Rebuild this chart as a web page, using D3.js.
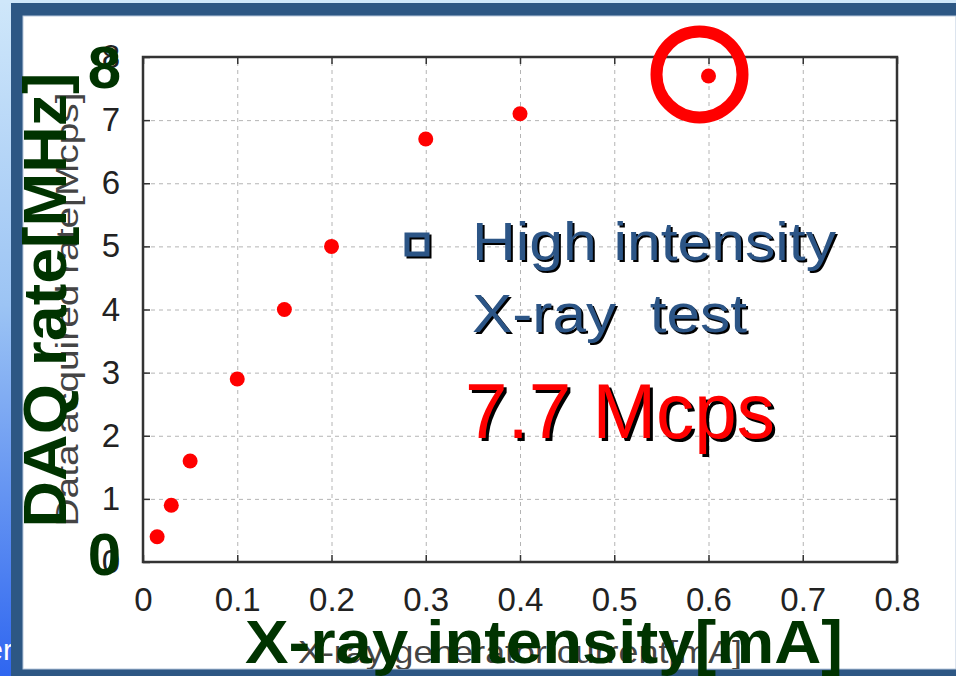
<!DOCTYPE html>
<html>
<head>
<meta charset="utf-8">
<script src="https://cdn.jsdelivr.net/npm/d3@7"></script>
<style>
    body { margin: 0; background: #fff; }
    svg { display: block; font-family: 'Liberation Sans', Arial, sans-serif; }
</style>
</head>
<body>
<svg id="chart" width="956" height="676"></svg>
<script>
// DAQ rate vs X-ray generator current
const current = [0.015, 0.03, 0.05, 0.1, 0.15, 0.2, 0.3, 0.4, 0.6]
const rate = [0.4, 0.9, 1.6, 2.9, 4.0, 5.0, 6.7, 7.1, 7.7]
const xTicks = [0, 0.1, 0.2, 0.3, 0.4, 0.5, 0.6, 0.7, 0.8]
const yTicks = [0, 1, 2, 3, 4, 5, 6, 7, 8]
const bigYTicks = [8, 0]
const peakIndex = 8
const legendLines = ['High intensity', 'X-ray  test']
const headline = '7.7 Mcps'
const xLabel = 'X-ray intensity[mA]'
const yLabel = 'DAQ rate[MHz]'
const oldXLabel = 'X-ray generator current[mA]'
const oldYLabel = 'Data acquired rate[Mcps]'

const svg = d3.select('#chart')
const W = +svg.attr('width')
const H = +svg.attr('height')
const green = '#003300'
const slideBlue = '#2d5784'

// slide background and frame
const defs = svg.append('defs')
const grad = defs.append('linearGradient')
    .attr('id', 'side')
    .attr('x1', 0).attr('y1', 0).attr('x2', 0).attr('y2', 1)
grad.append('stop').attr('offset', '0%').attr('stop-color', '#cfe7fa')
grad.append('stop').attr('offset', '45%').attr('stop-color', '#9cc4f4')
grad.append('stop').attr('offset', '100%').attr('stop-color', '#2f66f0')

svg.append('rect').attr('width', W).attr('height', H).attr('fill', 'url(#side)')
svg.append('rect').attr('width', W).attr('height', 3).attr('fill', '#cfe7fa')
svg.append('text')
    .attr('x', 13).attr('y', 660)
    .attr('text-anchor', 'end')
    .attr('font-size', 30)
    .attr('fill', '#fff')
    .text('er')
svg.append('rect')
    .attr('x', 11).attr('y', 3)
    .attr('width', W - 11).attr('height', H - 3)
    .attr('fill', slideBlue)
svg.append('rect')
    .attr('x', 23).attr('y', 16)
    .attr('width', W - 23).attr('height', 653)
    .attr('fill', '#fff')
    .attr('stroke', '#b8c8dc')
    .attr('stroke-width', 1)

defs.append('clipPath').attr('id', 'page')
    .append('rect')
    .attr('x', 23).attr('y', 16)
    .attr('width', W - 23).attr('height', 653)

// pasted gnuplot picture
const margin = { top: 57, left: 143 }
const width = 754
const height = 505

const paper = svg.append('g').attr('clip-path', 'url(#page)')
const g = paper.append('g')
    .attr('transform', `translate(${margin.left},${margin.top})`)

const x = d3.scaleLinear().domain([0, 0.8]).range([0, width])
const y = d3.scaleLinear().domain([0, 8]).range([height, 0])

// dashed grid
g.append('g')
    .attr('transform', `translate(0,${height})`)
    .call(d3.axisBottom(x).tickValues(xTicks).tickSize(-height).tickFormat(''))
    .call(s => s.select('.domain').remove())
    .selectAll('line')
    .attr('stroke', '#b4b4b4')
    .attr('stroke-dasharray', '4,4')

g.append('g')
    .call(d3.axisLeft(y).tickValues(yTicks).tickSize(-width).tickFormat(''))
    .call(s => s.select('.domain').remove())
    .selectAll('line')
    .attr('stroke', '#b4b4b4')
    .attr('stroke-dasharray', '4,4')

// inward ticks and labels
const styleAxis = s => {
    s.select('.domain').remove()
    s.attr('font-family', null).attr('font-size', 33)
    s.selectAll('line').attr('stroke', '#333').attr('stroke-width', 1.5)
    s.selectAll('text').attr('fill', '#222')
}

g.append('g')
    .attr('transform', `translate(0,${height})`)
    .call(d3.axisBottom(x).tickValues(xTicks).tickSize(-7).tickPadding(26).tickFormat(d => d))
    .call(styleAxis)

g.append('g')
    .call(d3.axisLeft(y).tickValues(yTicks).tickSize(-7).tickPadding(23).tickFormat(d => d))
    .call(styleAxis)

g.append('g')
    .call(d3.axisTop(x).tickValues(xTicks).tickSize(-7).tickFormat(''))
    .call(styleAxis)

g.append('g')
    .attr('transform', `translate(${width},0)`)
    .call(d3.axisRight(y).tickValues(yTicks).tickSize(-7).tickFormat(''))
    .call(styleAxis)

// plot border
g.append('rect')
    .attr('width', width)
    .attr('height', height)
    .attr('fill', 'none')
    .attr('stroke', '#333')
    .attr('stroke-width', 2.5)

// original axis titles
g.append('text')
    .attr('x', width / 2)
    .attr('y', 606)
    .attr('text-anchor', 'middle')
    .attr('font-size', 32)
    .attr('fill', '#444')
    .attr('textLength', 444)
    .attr('lengthAdjust', 'spacingAndGlyphs')
    .text(oldXLabel)

g.append('text')
    .attr('transform', `translate(${78 - margin.left},${height / 2}) rotate(-90)`)
    .attr('text-anchor', 'middle')
    .attr('font-size', 32)
    .attr('fill', '#444')
    .attr('textLength', 434)
    .attr('lengthAdjust', 'spacingAndGlyphs')
    .text(oldYLabel)

// data points
g.selectAll('circle.pt')
    .data(current)
    .join('circle')
    .attr('class', 'pt')
    .attr('cx', d => x(d))
    .attr('cy', (d, i) => y(rate[i]))
    .attr('r', 7.5)
    .attr('fill', '#ff0000')

// slide overlays
const overlay = svg.append('g')
    .attr('transform', `translate(${margin.left},${margin.top})`)

// ring round the best point
overlay.append('circle')
    .attr('cx', x(current[peakIndex]) - 9)
    .attr('cy', y(rate[peakIndex]) - 1.5)
    .attr('r', 43)
    .attr('fill', 'none')
    .attr('stroke', '#ff0000')
    .attr('stroke-width', 12)

// big green tick numbers
overlay.selectAll('text.big')
    .data(bigYTicks)
    .join('text')
    .attr('class', 'big')
    .attr('x', 121 - margin.left)
    .attr('y', d => y(d) + (d === 0 ? 13 : 31))
    .attr('text-anchor', 'end')
    .attr('font-size', 60)
    .attr('font-weight', 'bold')
    .attr('fill', green)
    .text(d => d)

overlay.append('text')
    .attr('x', 544 - margin.left)
    .attr('y', 663 - margin.top)
    .attr('text-anchor', 'middle')
    .attr('font-size', 62)
    .attr('font-weight', 'bold')
    .attr('fill', green)
    .attr('textLength', 598)
    .attr('lengthAdjust', 'spacingAndGlyphs')
    .text(xLabel)

overlay.append('text')
    .attr('transform', `translate(${66 - margin.left},${300 - margin.top}) rotate(-90)`)
    .attr('text-anchor', 'middle')
    .attr('font-size', 62)
    .attr('font-weight', 'bold')
    .attr('fill', green)
    .attr('textLength', 455)
    .attr('lengthAdjust', 'spacingAndGlyphs')
    .text(yLabel)

// shadowed slide text
const shadowText = (str, px, py, size, fill, len, off) => {
    const t = svg.append('g')
    ;[['#000', off], [fill, 0]].forEach(([c, o]) => {
        t.append('text')
            .attr('x', px + o)
            .attr('y', py + o)
            .attr('font-size', size)
            .attr('fill', c)
            .attr('textLength', len)
            .attr('lengthAdjust', 'spacingAndGlyphs')
            .style('white-space', 'pre')
            .text(str)
    })
}

const legendBlue = '#2c5586'
svg.append('rect')
    .attr('x', 409).attr('y', 237)
    .attr('width', 20).attr('height', 19)
    .attr('fill', 'none').attr('stroke', '#000').attr('stroke-width', 5)
svg.append('rect')
    .attr('x', 407).attr('y', 235)
    .attr('width', 20).attr('height', 19)
    .attr('fill', 'none').attr('stroke', legendBlue).attr('stroke-width', 5)

shadowText(legendLines[0], 472, 260, 54, legendBlue, 364, 2)
shadowText(legendLines[1], 472, 332, 54, legendBlue, 275, 2)
shadowText(headline, 465, 438, 78, '#ff0000', 310, 3)
</script>
</body>
</html>
